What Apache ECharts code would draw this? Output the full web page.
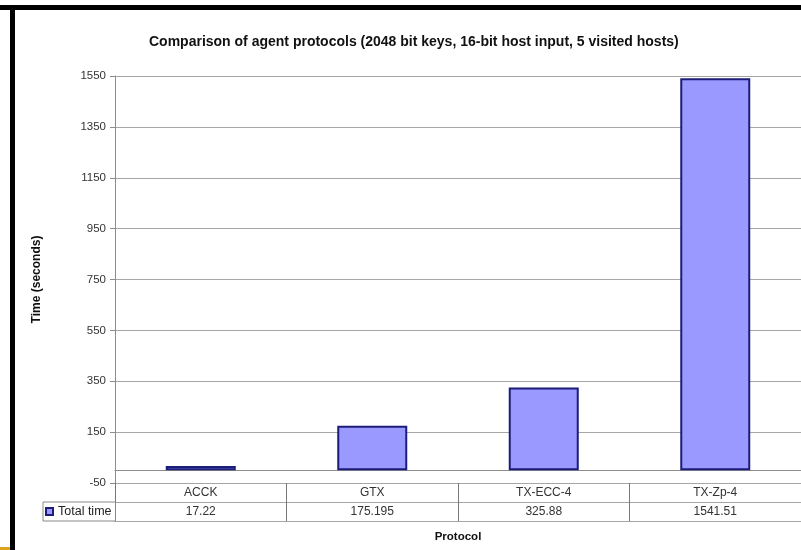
<!DOCTYPE html>
<html>
<head>
<meta charset="utf-8">
<script src="https://cdn.jsdelivr.net/npm/echarts@6/dist/echarts.min.js"></script>
<style>
  html, body { margin: 0; padding: 0; background: #fff; }
  #chart { width: 801px; height: 550px; }
</style>
</head>
<body>
<div id="chart"></div>
<script>
// data
const protocols = ['ACCK', 'GTX', 'TX-ECC-4', 'TX-Zp-4']
const totalTime = [17.22, 175.195, 325.88, 1541.51]
const seriesName = 'Total time'

const font = 'Liberation Sans, Arial, sans-serif'
const gridGray = '#a6a6a6'

const chart = echarts.init(document.getElementById('chart'))

chart.setOption({
  backgroundColor: '#fff',
  animation: false,
  textStyle: { fontFamily: font },
  title: {
    text: 'Comparison of agent protocols (2048 bit keys, 16-bit host input, 5 visited hosts)',
    left: 144,
    top: 30,
    textStyle: { fontSize: 14, fontWeight: 'bold', color: '#111', fontFamily: font }
  },
  legend: {
    data: [seriesName],
    left: 43,
    top: 502,
    padding: [2, 4, 2, 2],
    borderColor: '#888',
    borderWidth: 1,
    itemWidth: 7,
    itemHeight: 7,
    icon: 'rect',
    textStyle: { fontSize: 12.5, lineHeight: 15, color: '#222', fontFamily: font }
  },
  // the frame around the original screenshot
  graphic: [
    { type: 'rect', shape: { x: 0, y: 5, width: 801, height: 5 }, style: { fill: '#000' } },
    { type: 'rect', shape: { x: 10, y: 5, width: 5, height: 545 }, style: { fill: '#000' } },
    { type: 'rect', shape: { x: 0, y: 547, width: 10, height: 3 }, style: { fill: '#d9a520' } }
  ],
  grid: [
    { left: 115, top: 76, width: 690, height: 407 },
    { left: 115, top: 483, width: 690, height: 38 }
  ],
  xAxis: [
    {
      type: 'category',
      gridIndex: 0,
      data: protocols,
      axisLine: { onZero: true, lineStyle: { color: '#8c8c8c' } },
      axisTick: { show: false },
      axisLabel: { show: false }
    },
    {
      type: 'category',
      gridIndex: 1,
      data: protocols,
      name: 'Protocol',
      nameLocation: 'middle',
      nameGap: 10,
      nameTextStyle: { fontSize: 11.5, fontWeight: 'bold', color: '#111' },
      axisLine: { show: true, lineStyle: { color: gridGray } },
      axisTick: { show: false },
      splitLine: { show: true, interval: 0, lineStyle: { color: '#777' } },
      axisLabel: {
        inside: true,
        margin: 0,
        interval: 0,
        formatter: (val, i) => '{a|' + val + '}\n{a|' + String(totalTime[i]) + '}',
        rich: { a: { fontSize: 12, lineHeight: 19, color: '#333', fontFamily: font } }
      }
    }
  ],
  yAxis: [
    {
      type: 'value',
      gridIndex: 0,
      min: -50,
      max: 1550,
      interval: 200,
      name: 'Time (seconds)',
      nameLocation: 'middle',
      nameGap: 72,
      nameTextStyle: { fontSize: 12, fontWeight: 'bold', color: '#111' },
      axisLine: { show: true, lineStyle: { color: '#8c8c8c' } },
      axisTick: { show: true, length: 5, lineStyle: { color: '#8c8c8c' } },
      axisLabel: { margin: 9, fontSize: 11.5, color: '#333', formatter: (v) => String(v) },
      splitLine: { show: true, lineStyle: { color: gridGray } }
    },
    {
      type: 'value',
      gridIndex: 1,
      min: 0,
      max: 2,
      interval: 1,
      axisLine: { show: true, lineStyle: { color: '#777' } },
      axisTick: { show: false },
      axisLabel: { show: false },
      splitLine: { show: true, lineStyle: { color: gridGray } }
    }
  ],
  series: [
    {
      name: seriesName,
      type: 'bar',
      xAxisIndex: 0,
      yAxisIndex: 0,
      data: totalTime,
      barWidth: 70,
      itemStyle: { color: '#9999ff', borderColor: '#1c1c7a', borderWidth: 2 }
    }
  ]
})
</script>
</body>
</html>
